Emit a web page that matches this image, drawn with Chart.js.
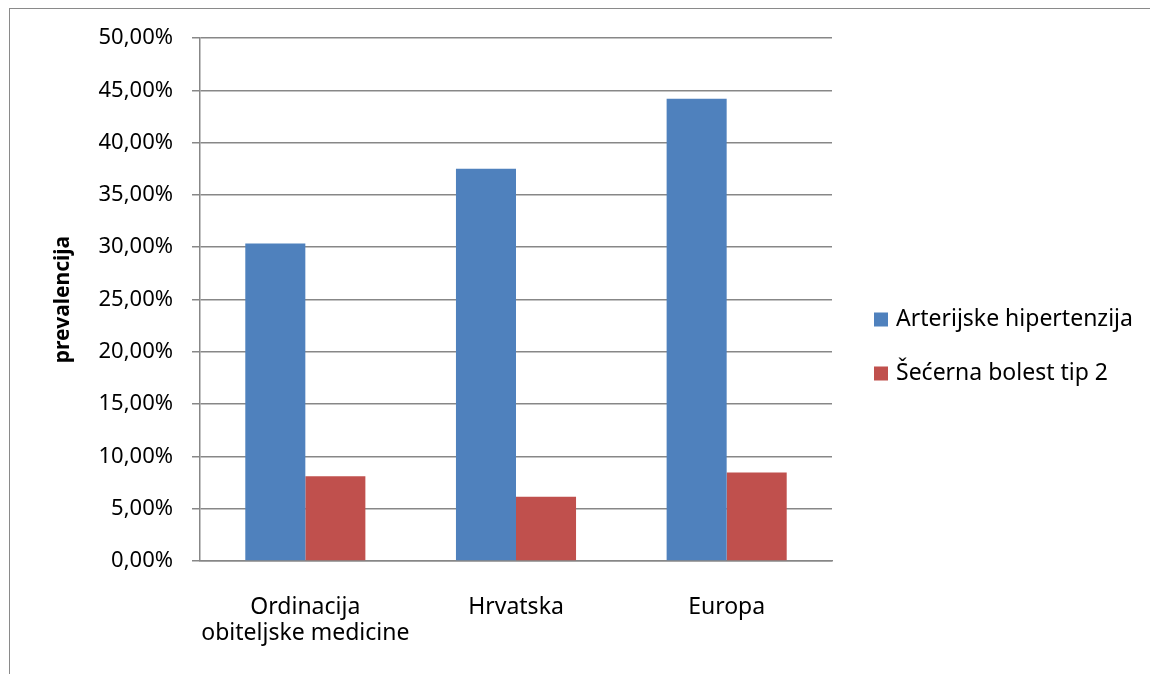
<!DOCTYPE html>
<html>
<head>
<meta charset="utf-8">
<script src="https://cdn.jsdelivr.net/npm/chart.js@4"></script>
<style>
    html, body { margin: 0; padding: 0; background: #fff; }
    #wrap { position: relative; width: 1150px; height: 674px; overflow: hidden; }
    #frame { position: absolute; left: 9px; top: 8px; width: 1200px; height: 700px;
             border-left: 1.5px solid #8a8a8a; border-top: 1.5px solid #8a8a8a; }
    #chart { position: absolute; left: 0; top: 0; }
</style>
</head>
<body>
<div id="wrap">
    <div id="frame"></div>
    <canvas id="chart" width="1150" height="674"></canvas>
</div>
<script>
// Prevalence values (%)
const categories = [['Ordinacija', 'obiteljske medicine'], 'Hrvatska', 'Europa'];
const hypertension = [30.35, 37.5, 44.2];
const diabetes = [8.1, 6.15, 8.45];
const seriesNames = ['Arterijske hipertenzija', 'Šećerna bolest tip 2'];
const yTitle = 'prevalencija';

const fontFamily = '"Noto Sans", sans-serif';
const gridColor = '#878787';

// Legend drawn on the right, next to the plot
const sideLegend = {
    id: 'sideLegend',
    afterDraw(chart) {
        const ctx = chart.ctx;
        ctx.save();
        ctx.font = '23px ' + fontFamily;
        ctx.textBaseline = 'middle';
        ctx.textAlign = 'left';
        chart.data.datasets.forEach(function(ds, i) {
            const cy = 319.5 + i * 54;
            ctx.fillStyle = ds.backgroundColor;
            ctx.fillRect(874, cy - 7, 14, 14);
            ctx.fillStyle = '#000';
            ctx.fillText(ds.label, 896, cy);
        });
        ctx.restore();
    }
};

new Chart(document.getElementById('chart').getContext('2d'), {
    type: 'bar',
    data: {
        labels: categories,
        datasets: [{
            label: seriesNames[0],
            data: hypertension,
            backgroundColor: '#4f81bd'
        }, {
            label: seriesNames[1],
            data: diabetes,
            backgroundColor: '#c0504d'
        }]
    },
    options: {
        responsive: false,
        animation: false,
        devicePixelRatio: 1,
        layout: { padding: { top: 38, right: 318, bottom: 0, left: 0 } },
        datasets: {
            bar: { barPercentage: 1, categoryPercentage: 0.57 }
        },
        plugins: {
            legend: { display: false },
            tooltip: { enabled: false }
        },
        scales: {
            x: {
                grid: { display: false, drawTicks: false },
                border: { display: true, color: gridColor, width: 1.5 },
                ticks: {
                    color: '#000',
                    padding: 33,
                    maxRotation: 0,
                    autoSkip: false,
                    font: { family: fontFamily, size: 23, lineHeight: 1.15 }
                },
                afterFit: function(scale) { scale.height = 113; }
            },
            y: {
                min: 0,
                max: 50,
                ticks: {
                    stepSize: 5,
                    color: '#000',
                    padding: 19,
                    font: { family: fontFamily, size: 22 },
                    callback: function(v) { return v.toFixed(2).replace('.', ',') + '%'; }
                },
                grid: { color: gridColor, lineWidth: 1.5, tickLength: 8 },
                border: { display: true, color: gridColor, width: 1.5 },
                title: {
                    display: true,
                    text: yTitle,
                    color: '#000',
                    padding: { top: 50 },
                    font: { family: fontFamily, size: 21, weight: 'bold' }
                },
                afterFit: function(scale) { scale.width = 200; }
            }
        }
    },
    plugins: [sideLegend]
});
</script>
</body>
</html>
